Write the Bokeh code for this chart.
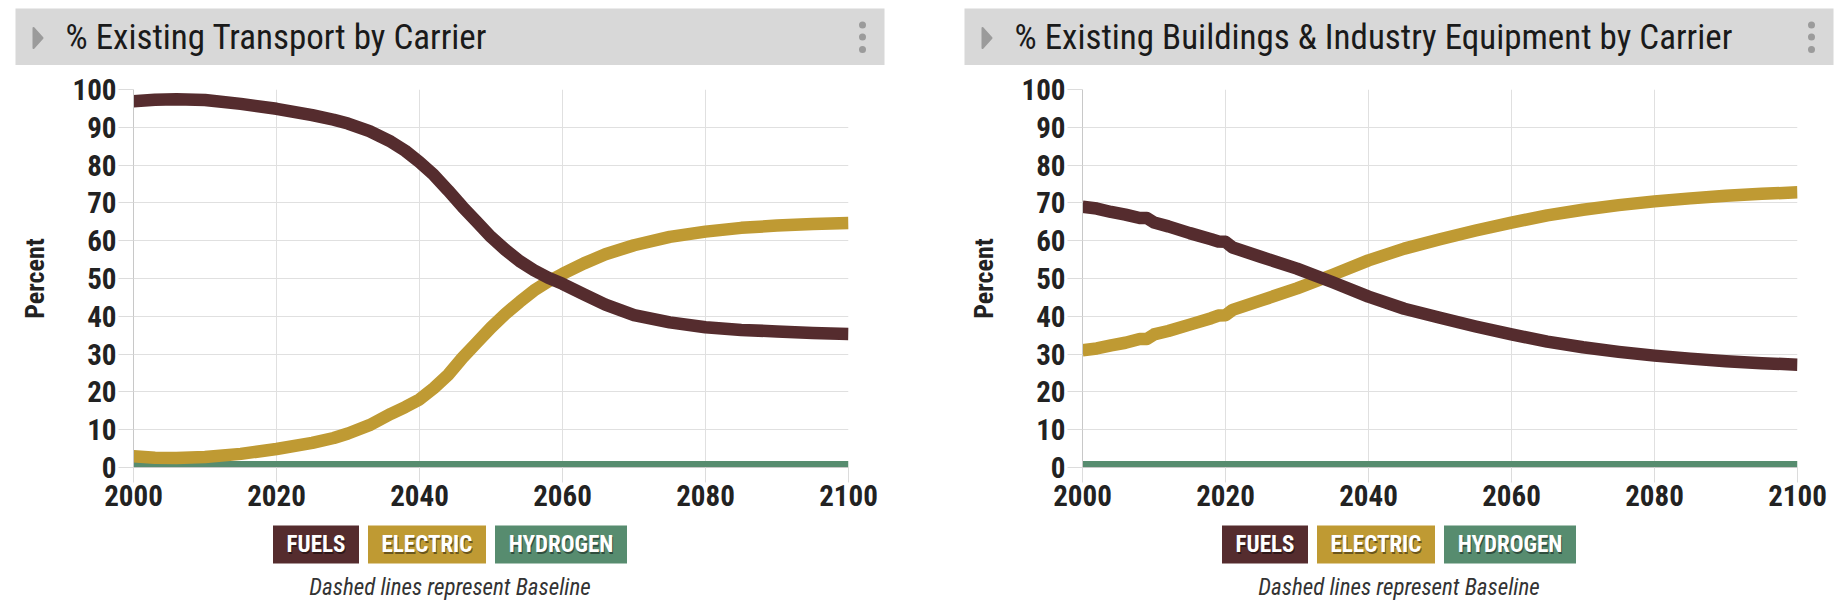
from bokeh.plotting import figure
from bokeh.layouts import row, column
from bokeh.models import Range1d, FixedTicker
from bokeh.embed import file_html
from bokeh.resources import INLINE
from bokeh.core.properties import value

# ---------------- data ----------------
titles = ["% Existing Transport by Carrier",
          "% Existing Buildings & Industry Equipment by Carrier"]
carriers = ["FUELS", "ELECTRIC", "HYDROGEN"]
carrier_colors = ["#552c2e", "#bf9a33", "#578c6f"]
x_ticks = [2000, 2020, 2040, 2060, 2080, 2100]
y_ticks = [0, 10, 20, 30, 40, 50, 60, 70, 80, 90, 100]
y_label = "Percent"
caption = "Dashed lines represent Baseline"

transport_years = [2000, 2003, 2006, 2010, 2015, 2020, 2025, 2028, 2030, 2033, 2036,
                   2038, 2040, 2042, 2044, 2046, 2048, 2050, 2052, 2054, 2056, 2058,
                   2060, 2063, 2066, 2070, 2075, 2080, 2085, 2090, 2095, 2100]
transport_fuels = [96.9, 97.3, 97.4, 97.2, 96.2, 94.9, 93.2, 92.0, 91.0, 89.0, 86.2,
                   83.8, 80.8, 77.4, 73.3, 69.0, 65.0, 61.0, 57.6, 54.6, 52.2, 50.2,
                   48.6, 45.8, 43.1, 40.3, 38.4, 37.1, 36.4, 36.0, 35.6, 35.3]
transport_electric = [3.0, 2.6, 2.5, 2.8, 3.6, 4.9, 6.5, 7.8, 9.0, 11.2, 14.2,
                      16.0, 18.0, 21.0, 24.5, 29.0, 33.0, 37.0, 40.6, 43.8, 46.8, 49.2,
                      51.2, 54.0, 56.4, 58.8, 61.0, 62.4, 63.4, 64.0, 64.4, 64.7]
transport_hydrogen = [0, 0, 0, 0, 0, 0, 0, 0, 0, 0, 0, 0, 0, 0, 0, 0, 0, 0, 0, 0, 0,
                      0, 0, 0, 0, 0, 0, 0, 0, 0, 0, 0]

buildings_years = [2000, 2002, 2004, 2006, 2008, 2009, 2010, 2012, 2015, 2018, 2019,
                   2020, 2021, 2025, 2030, 2035, 2040, 2045, 2050, 2055, 2060, 2065,
                   2070, 2075, 2080, 2085, 2090, 2095, 2100]
buildings_fuels = [69.0, 68.5, 67.6, 66.9, 66.0, 66.0, 64.8, 63.8, 62.0, 60.4, 59.8,
                   59.7, 58.2, 55.7, 52.6, 49.0, 45.2, 42.0, 39.6, 37.3, 35.2, 33.3,
                   31.8, 30.6, 29.6, 28.8, 28.1, 27.6, 27.2]
buildings_electric = [31.0, 31.5, 32.3, 33.0, 34.0, 34.0, 35.2, 36.1, 37.8, 39.5, 40.2,
                      40.3, 41.7, 44.2, 47.4, 51.0, 54.8, 57.9, 60.4, 62.7, 64.8, 66.7,
                      68.2, 69.4, 70.4, 71.2, 71.9, 72.4, 72.8]
buildings_hydrogen = [0, 0, 0, 0, 0, 0, 0, 0, 0, 0, 0, 0, 0, 0, 0, 0, 0, 0, 0, 0, 0,
                      0, 0, 0, 0, 0, 0, 0, 0]

# ---------------- style ----------------
COND = "'Roboto Condensed', 'Liberation Sans Narrow', Roboto"
TXT = "#222222"
HEADER_H = 65
LEGEND_H = 86
BOX_W = [86, 118, 132]
BOX_GAP = 9


def bare(width, height):
    f = figure(width=width, height=height, x_range=Range1d(0, width),
               y_range=Range1d(height, 0), toolbar_location=None,
               output_backend="svg", x_axis_location=None, y_axis_location=None,
               min_border=0, outline_line_color=None)
    f.grid.visible = False
    return f


def parts(title, years, fuels, electric, hydrogen, width, off):
    # header bar
    h = bare(width, HEADER_H)
    h.quad(left=[off + 7], right=[off + 876], top=[8], bottom=[HEADER_H],
           fill_color="#d8d8d8", line_color=None)
    h.patch([off + 25, off + 34, off + 25], [27.5, 37.5, 47.5], fill_color="#9b9b9b",
            line_color="#9b9b9b", line_width=2, line_join="round")
    h.text(x=[off + 57], y=[37], text=[title], text_font=value(COND),
           text_font_size="35px", text_baseline="middle", text_color="#1a1a1a")
    h.scatter(x=[off + 854] * 3, y=[24.5, 36.5, 49], size=7,
              fill_color="#9b9b9b", line_color=None)

    # chart
    p = figure(frame_width=715, frame_height=378,
               x_range=Range1d(2000, 2100), y_range=Range1d(0, 100),
               toolbar_location=None, output_backend="svg",
               min_border_left=125 + off, min_border_right=width - 840 - off,
               min_border_top=24, min_border_bottom=53,
               outline_line_color=None)
    p.xaxis.ticker = FixedTicker(ticks=x_ticks)
    p.yaxis.ticker = FixedTicker(ticks=y_ticks)
    p.grid.grid_line_color = "#e0e0e0"
    p.axis.minor_tick_line_color = None
    p.axis.major_tick_in = 0
    p.axis.major_tick_out = 15
    p.axis.major_tick_line_color = "#dcdcdc"
    p.axis.axis_line_color = "#c8c8c8"
    p.axis.major_label_text_font = COND
    p.axis.major_label_text_font_size = "29px"
    p.axis.major_label_text_font_style = "bold"
    p.axis.major_label_text_color = TXT
    p.axis.major_label_standoff = 2
    p.yaxis.axis_label = y_label
    p.yaxis.axis_label_text_font = COND
    p.yaxis.axis_label_text_font_size = "26px"
    p.yaxis.axis_label_text_font_style = "bold"
    p.yaxis.axis_label_text_color = TXT
    p.yaxis.axis_label_standoff = 20

    p.line(years, hydrogen, line_width=13, line_color=carrier_colors[2])
    p.line(years, electric, line_width=12.5, line_color=carrier_colors[1],
           line_join="round")
    p.line(years, fuels, line_width=12.5, line_color=carrier_colors[0],
           line_join="round")

    # legend + caption
    lg = bare(width, LEGEND_H)
    total = sum(BOX_W) + BOX_GAP * (len(BOX_W) - 1)
    cx = off + (7 + 876) / 2
    left = cx - total / 2
    for name, col, bw in zip(carriers, carrier_colors, BOX_W):
        lg.quad(left=[left], right=[left + bw], top=[5], bottom=[43],
                fill_color=col, line_color=None)
        lg.text(x=[left + bw / 2 + 1], y=[25.5], text=[name], text_font=value(COND),
                text_font_size="23px", text_font_style="bold", text_align="center",
                text_baseline="middle", text_color="black", text_alpha=0.45)
        lg.text(x=[left + bw / 2], y=[24], text=[name], text_font=value(COND),
                text_font_size="23px", text_font_style="bold", text_align="center",
                text_baseline="middle", text_color="white")
        left += bw + BOX_GAP
    lg.text(x=[cx], y=[67], text=[caption], text_font=value(COND),
            text_font_size="23px", text_font_style="italic", text_align="center",
            text_baseline="middle", text_color="#333333")
    return h, p, lg


h1, p1, l1 = parts(titles[0], transport_years, transport_fuels, transport_electric,
                   transport_hydrogen, 957, 8)
h2, p2, l2 = parts(titles[1], buildings_years, buildings_fuels, buildings_electric,
                   buildings_hydrogen, 885, 0)
left_panel = column(row(h1), row(p1), row(l1), spacing=0)
right_panel = column(row(h2), row(p2), row(l2), spacing=0)
layout = row(left_panel, right_panel, spacing=0)

open("out.html", "w").write(file_html(layout, INLINE))
